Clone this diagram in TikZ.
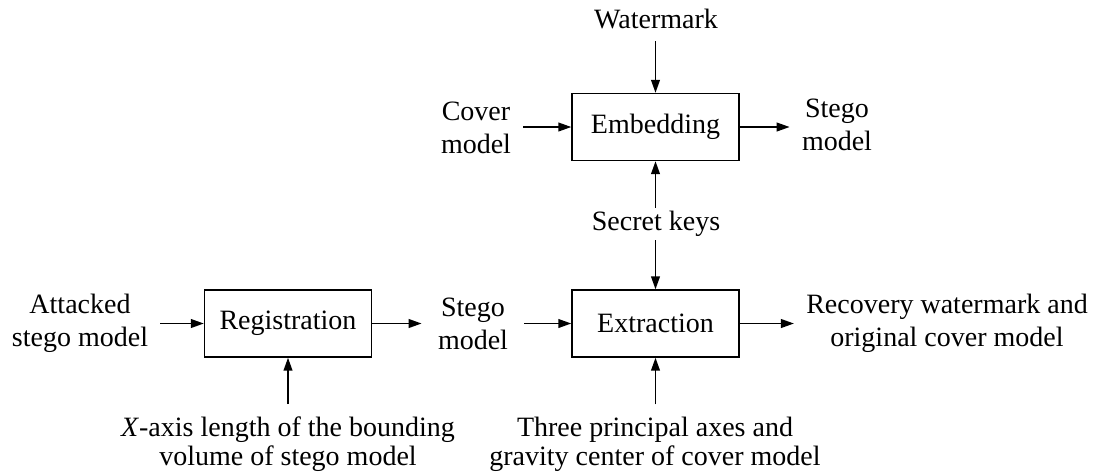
\documentclass[tikz,border=0pt]{standalone}
\usepackage{fontspec}
\setmainfont{Liberation Serif}
\usetikzlibrary{arrows.meta}
\begin{document}
\begin{tikzpicture}[x=0.5pt,y=-0.5pt,
  font=\fontsize{14}{16.5}\selectfont,
  block/.style={draw, line width=0.7pt, minimum width=83.5pt, minimum height=33.5pt, inner sep=0pt},
  lbl/.style={align=center, inner xsep=6pt, inner ysep=6pt},
  arr/.style={line width=0.8pt, -{Triangle[length=6.5pt,width=4.4pt]}}]
\useasboundingbox (0,0) rectangle (1096,473);

% processing blocks
\node[block] (emb) at (655.5,127) {Embedding};
\node[block] (reg) at (288,323.5) {Registration};
\node[block] (ext) at (655.5,323.5) {Extraction};

% inputs and outputs
\node[lbl] (wm) at (656,19) {Watermark};
\node[lbl] (cover) at (476,128) {Cover\\model};
\node[lbl] (stegoA) at (837,125) {Stego\\model};
\node[lbl, inner ysep=1.5pt] (keys) at (656,224) {Secret keys};
\node[lbl] (att) at (80,323) {Attacked\\stego model};
\node[lbl, inner xsep=8pt] (stegoB) at (473,324) {Stego\\model};
\node[lbl] (rec) at (947,323) {Recovery watermark and\\original cover model};
\node[lbl, font=\fontsize{14}{14.5}\selectfont] (xaxis) at (288,444) {\textit{X}-axis length of the bounding\\volume of stego model};
\node[lbl, font=\fontsize{14}{14.5}\selectfont] (axes) at (655,444) {Three principal axes and\\gravity center of cover model};

% connectors
\draw[arr] (wm.south -| emb.north) -- (emb.north);
\draw[arr] (emb.west -| cover.east) -- (emb.west);
\draw[arr] (emb.east) -- (emb.east -| stegoA.west);
\draw[arr] (keys.north -| emb.south) -- (emb.south);
\draw[arr] (keys.south -| ext.north) -- (ext.north);
\draw[arr] (reg.west -| att.east) -- (reg.west);
\draw[arr] (reg.east) -- (reg.east -| stegoB.west);
\draw[arr] (ext.west -| stegoB.east) -- (ext.west);
\draw[arr] (ext.east) -- (ext.east -| rec.west);
\draw[arr] (xaxis.north -| reg.south) -- (reg.south);
\draw[arr] (axes.north -| ext.south) -- (ext.south);
\end{tikzpicture}
\end{document}
